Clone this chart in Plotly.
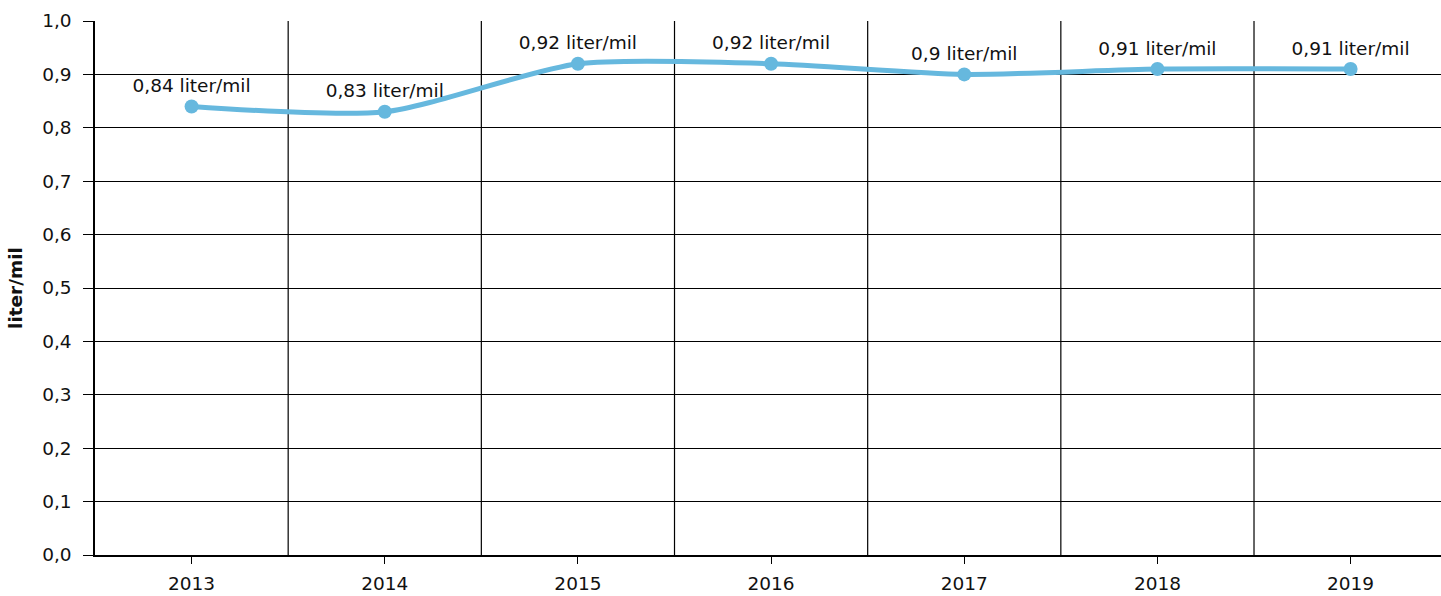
import plotly.graph_objects as go

years = ["2013", "2014", "2015", "2016", "2017", "2018", "2019"]
values = [0.84, 0.83, 0.92, 0.92, 0.90, 0.91, 0.91]
labels = ["0,84 liter/mil", "0,83 liter/mil", "0,92 liter/mil", "0,92 liter/mil",
          "0,9 liter/mil", "0,91 liter/mil", "0,91 liter/mil"]
y_title = "liter/mil"

FONT = "Verdana, DejaVu Sans, sans-serif"
LINE_COLOR = "#66b8de"
FS = 18.5

fig = go.Figure()
fig.add_trace(go.Scatter(
    x=years, y=values, text=labels,
    mode="lines+markers+text",
    textposition="top center",
    textfont=dict(family=FONT, size=FS, color="#111111"),
    line=dict(color=LINE_COLOR, width=5, shape="spline", smoothing=0.7),
    marker=dict(color=LINE_COLOR, size=14),
    cliponaxis=False,
    hoverinfo="skip",
))

shapes = []
for i in range(len(years) - 1):
    shapes.append(dict(type="line", xref="x", yref="paper", x0=i + 0.5, x1=i + 0.5,
                       y0=0, y1=1, line=dict(color="black", width=1.2), layer="below"))

fig.update_layout(
    width=1441, height=596,
    margin=dict(l=95, r=0, t=21, b=41),
    paper_bgcolor="white", plot_bgcolor="white",
    separators=", ",
    font=dict(family=FONT, size=FS, color="#111111"),
    showlegend=False,
    shapes=shapes,
    xaxis=dict(
        type="category", categoryorder="array", categoryarray=years,
        range=[-0.5, 6.468], automargin=False,
        showgrid=False, zeroline=False,
        showline=True, linecolor="black", linewidth=2,
        ticks="outside", ticklen=7, tickcolor="black", tickwidth=1,
        ticklabelstandoff=4,
        tickfont=dict(family=FONT, size=FS, color="#111111"),
    ),
    yaxis=dict(
        range=[0, 1.0], dtick=0.1, tick0=0, tickformat=".1f", automargin=False,
        showgrid=True, gridcolor="black", gridwidth=1.2,
        zeroline=False,
        showline=True, linecolor="black", linewidth=1.5,
        ticks="outside", ticklen=10, tickcolor="black", tickwidth=1.2,
        ticklabelstandoff=8,
        tickfont=dict(family=FONT, size=FS, color="#111111"),
        title=dict(text="<b>" + y_title + "</b>", standoff=15,
                   font=dict(family=FONT, size=FS, color="#111111")),
    ),
)

fig.write_html("out.html", config={"displayModeBar": False},
               post_script="document.body.style.margin='0';document.body.style.overflow='hidden';")
